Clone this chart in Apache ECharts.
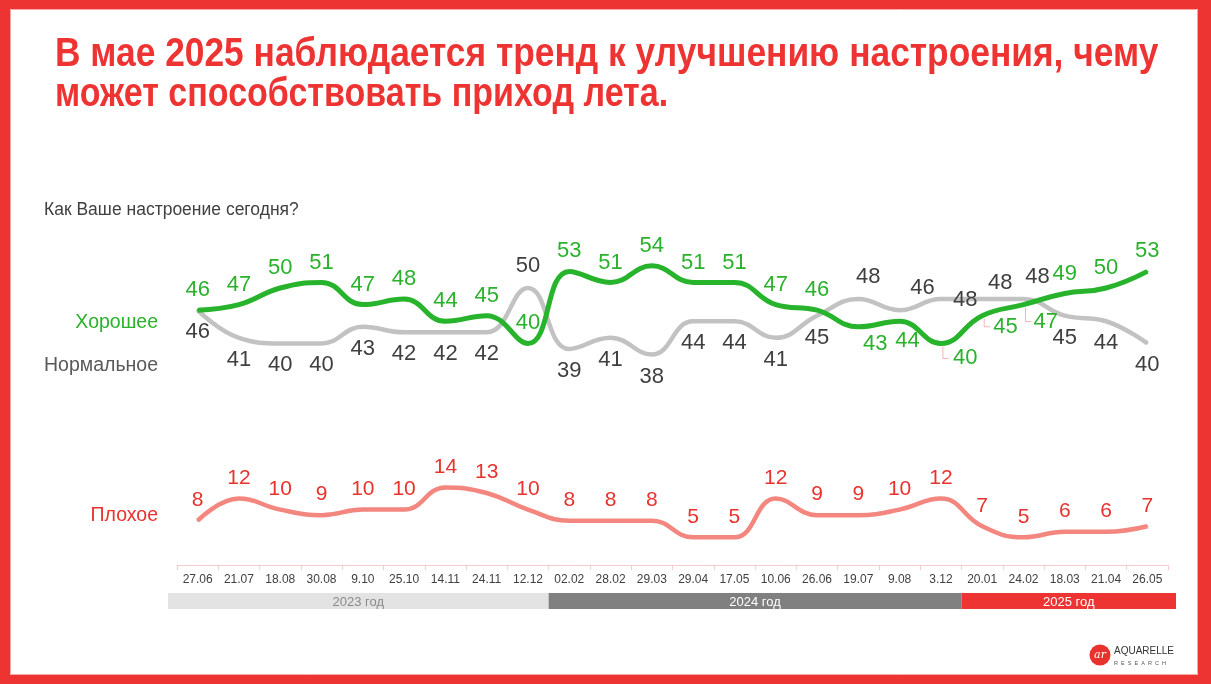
<!DOCTYPE html>
<html><head><meta charset="utf-8">
<script src="https://cdn.jsdelivr.net/npm/echarts@6/dist/echarts.min.js"></script>
<style>html,body{margin:0;padding:0;background:#fff;} #c{width:1211px;height:684px;}</style>
</head><body><div id="c"></div>
<script>
// ---------- DATA ----------
const categories = ['27.06','21.07','18.08','30.08','9.10','25.10','14.11','24.11','12.12','02.02','28.02','29.03','29.04','17.05','10.06','26.06','19.07','9.08','3.12','20.01','24.02','18.03','21.04','26.05'];
const goodValues   = [46,47,50,51,47,48,44,45,40,53,51,54,51,51,47,46,43,44,40,45,47,49,50,53];
const normalValues = [46,41,40,40,43,42,42,42,50,39,41,38,44,44,41,45,48,46,48,48,48,45,44,40];
const badValues    = [8,12,10,9,10,10,14,13,10,8,8,8,5,5,12,9,9,10,12,7,5,6,6,7];
const seriesNames = ['Хорошее','Нормальное','Плохое'];
const yearLabels = ['2023 год','2024 год','2025 год'];
const yearFirstIndex = [0, 9, 19];
const yearLastIndex  = [8, 18, 23];
const titleLines = ['В мае 2025 наблюдается тренд к улучшению настроения, чему', 'может способствовать приход лета.'];
const questionText = 'Как Ваше настроение сегодня?';

// ---------- STYLE ----------
const C = {
  red: '#ee3333', goodLine: '#28b32c', goodText: '#2ab22c',
  normLine: '#c2c2c2', normText: '#3f3f3f', normName: '#595959',
  badLine: '#f3877f', badText: '#e9322d', axis: '#f6cdcd'
};
const goodTweaks = {
  16: {position: 'bottom', offset: [17, -3]},
  17: {position: 'bottom', offset: [8, 0]},
  18: {position: 'right', distance: 11, offset: [0, 15]},
  19: {position: 'right', distance: 10, offset: [0, 11]},
  20: {position: 'right', distance: 9, offset: [0, 17]}
};
const normTweaks = {
  8:  {position: 'top'},
  16: {position: 'top', offset: [10, 0]},
  17: {position: 'top', offset: [23, 0]},
  18: {position: 'right', distance: 11, offset: [0, 1]},
  19: {position: 'top', offset: [18, 6]},
  20: {position: 'top', offset: [14, 0]}
};
const leaderIdx = [18, 19, 20];

function build(values, tweaks) {
  return values.map((v, i) => tweaks[i] ? {value: v, label: Object.assign({}, tweaks[i])} : v);
}

const chart = echarts.init(document.getElementById('c'), null, {renderer: 'canvas'});
const labelFont = {fontSize: 22, fontFamily: 'Liberation Sans, Arial, sans-serif'};

const option = {
  animation: false,
  backgroundColor: '#fff',
  grid: {left: 177, right: 43, top: 232.6, bottom: 119},
  xAxis: {
    type: 'category', data: categories, boundaryGap: true,
    axisLine: {lineStyle: {color: C.axis, width: 1}},
    axisTick: {show: true, length: 5, lineStyle: {color: C.axis}},
    axisLabel: {interval: 0, fontSize: 12, color: '#404040', margin: 9, fontFamily: 'Liberation Sans, Arial, sans-serif'},
    splitLine: {show: false}
  },
  yAxis: {type: 'value', min: 0, max: 60, show: false, splitLine: {show: false}},
  series: [
    {
      name: seriesNames[1], type: 'line', smooth: 0.45, data: build(normalValues, normTweaks),
      symbol: 'circle', symbolSize: 2, itemStyle: {color: C.normLine},
      lineStyle: {color: C.normLine, width: 4.5}, z: 2,
      label: Object.assign({show: true, position: 'bottom', distance: 10, color: C.normText}, labelFont),
      emphasis: {disabled: true}
    },
    {
      name: seriesNames[0], type: 'line', smooth: 0.45, data: build(goodValues, goodTweaks),
      symbol: 'circle', symbolSize: 2, itemStyle: {color: C.goodLine},
      lineStyle: {color: C.goodLine, width: 5}, z: 3,
      label: Object.assign({show: true, position: 'top', distance: 8, color: C.goodText}, labelFont),
      emphasis: {disabled: true}
    },
    {
      name: seriesNames[2], type: 'line', smooth: 0.45, data: badValues,
      symbol: 'circle', symbolSize: 2, itemStyle: {color: C.badLine},
      lineStyle: {color: C.badLine, width: 4.5}, z: 2,
      label: Object.assign({show: true, position: 'top', distance: 9, color: C.badText}, labelFont, {fontSize: 21}),
      emphasis: {disabled: true}
    }
  ]
};
chart.setOption(option);

// ---------- DECORATION (computed through the chart's scales) ----------
const g = [];
// frame
g.push({type: 'rect', shape: {x: 0, y: 0, width: 1211, height: 9}, style: {fill: C.red}, silent: true});
g.push({type: 'rect', shape: {x: 0, y: 0, width: 10, height: 684}, style: {fill: C.red}, silent: true});
g.push({type: 'rect', shape: {x: 1198, y: 0, width: 13, height: 684}, style: {fill: C.red}, silent: true});
g.push({type: 'rect', shape: {x: 0, y: 675, width: 1211, height: 9}, style: {fill: C.red}, silent: true});
g.push({type: 'rect', shape: {x: 10.5, y: 9.5, width: 1187, height: 665}, style: {fill: 'none', stroke: '#f7a9a9', lineWidth: 1}, silent: true});
// title (condensed)
g.push({type: 'text', x: 55, y: 34, scaleX: 0.862, style: {text: titleLines[0], font: 'bold 41px "Liberation Sans", Arial', fill: C.red}, silent: true});
g.push({type: 'text', x: 55, y: 74, scaleX: 0.83, style: {text: titleLines[1], font: 'bold 41px "Liberation Sans", Arial', fill: C.red}, silent: true});
// question
g.push({type: 'text', x: 44, y: 210, style: {text: questionText, font: '17.5px "Liberation Sans", Arial', fill: '#404040', verticalAlign: 'middle'}, silent: true});
// series names
g.push({type: 'text', x: 158, y: 323, style: {text: seriesNames[0], font: '19.5px "Liberation Sans", Arial', fill: C.goodText, align: 'right', verticalAlign: 'middle'}, silent: true});
g.push({type: 'text', x: 158, y: 366, style: {text: seriesNames[1], font: '19.5px "Liberation Sans", Arial', fill: C.normName, align: 'right', verticalAlign: 'middle'}, silent: true});
g.push({type: 'text', x: 158, y: 516, style: {text: seriesNames[2], font: '19.5px "Liberation Sans", Arial', fill: C.badText, align: 'right', verticalAlign: 'middle'}, silent: true});

// year bars
const c0 = chart.convertToPixel({xAxisIndex: 0}, 0);
const c1 = chart.convertToPixel({xAxisIndex: 0}, 1);
const band = c1 - c0;
const yearFill = ['#e3e3e3', '#808080', C.red];
const yearTextColor = ['#8a8a8a', '#ffffff', '#ffffff'];
yearLabels.forEach((lab, k) => {
  let x0 = chart.convertToPixel({xAxisIndex: 0}, yearFirstIndex[k]) - band / 2;
  let x1 = chart.convertToPixel({xAxisIndex: 0}, yearLastIndex[k]) + band / 2;
  if (k === 0) x0 -= 9;
  if (k === yearLabels.length - 1) x1 += 8;
  g.push({type: 'rect', shape: {x: x0, y: 593, width: x1 - x0, height: 16}, style: {fill: yearFill[k]}, silent: true});
  g.push({type: 'text', x: (x0 + x1) / 2, y: 602, style: {text: lab, font: '13px "Liberation Sans", Arial', fill: yearTextColor[k], align: 'center', verticalAlign: 'middle'}, silent: true});
});

// leader lines for displaced labels
leaderIdx.forEach(i => {
  const p = chart.convertToPixel({seriesIndex: 1}, [i, goodValues[i]]);
  const dy = goodTweaks[i].offset[1];
  g.push({type: 'polyline', shape: {points: [[p[0] + 2, p[1] + 3], [p[0] + 2, p[1] + dy], [p[0] + 8, p[1] + dy]]}, style: {stroke: '#f4b3b3', lineWidth: 1, fill: 'none'}, silent: true, z: 1});
});

// logo
g.push({type: 'circle', shape: {cx: 1100, cy: 655, r: 10.5}, style: {fill: '#e8322e'}, silent: true});
g.push({type: 'text', x: 1100, y: 655, style: {text: 'ar', font: 'italic 11px "DejaVu Serif", serif', fill: '#fff', align: 'center', verticalAlign: 'middle'}, silent: true});
g.push({type: 'text', x: 1114, y: 651, style: {text: 'AQUARELLE', font: '10px "Liberation Sans", Arial', fill: '#333', verticalAlign: 'middle'}, silent: true});
g.push({type: 'text', x: 1114, y: 663, style: {text: 'R  E  S  E  A  R  C  H', font: '5.5px "Liberation Sans", Arial', fill: '#555', verticalAlign: 'middle'}, silent: true});

chart.setOption({graphic: {elements: g}});
</script></body></html>
